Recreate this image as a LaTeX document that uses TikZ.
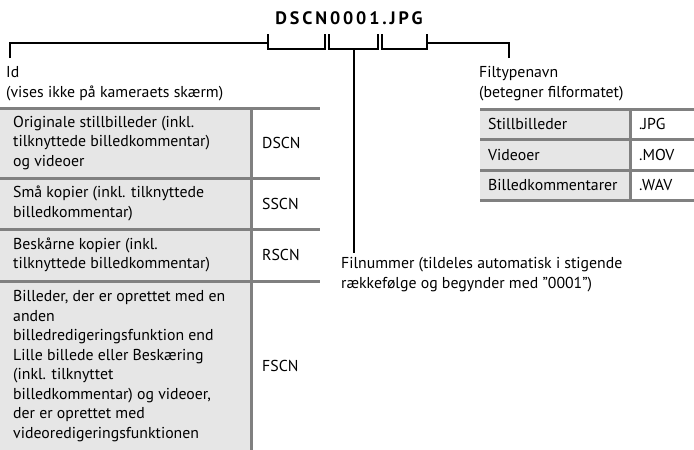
\documentclass[tikz,border=0pt]{standalone}
\usepackage{fontspec}
\setmainfont{PT Sans}
\newfontfamily\titlefont[LetterSpace=16]{PT Sans}
\definecolor{cellgray}{HTML}{E6E6E6}
\definecolor{rulegray}{HTML}{808080}
\begin{document}
\begin{tikzpicture}[x=1pt,y=-1pt,
  blk/.style={line width=2pt,black},
  rule/.style={line width=3pt,draw=rulegray},
  txt/.style={anchor=base west,align=left,inner sep=0pt,font=\fontsize{15.8}{19.5}\selectfont},
  cell/.style={anchor=west,align=left,inner sep=0pt,font=\fontsize{15.8}{19.5}\selectfont},
  code/.style={anchor=west,inner sep=0pt,font=\fontsize{15.8}{19.5}\selectfont}]
\useasboundingbox (0,0) rectangle (694,450);
% title
\node[inner sep=0pt,font=\titlefont\bfseries\fontsize{18}{20}\selectfont] (title) at (349,18) {DSCN0001.JPG};
% bracket coordinates
\coordinate (b1a) at (268,34); \coordinate (b1b) at (325,34);
\coordinate (b2a) at (329,34); \coordinate (b2b) at (378,34);
\coordinate (b3a) at (382,34); \coordinate (b3b) at (427,34);
\draw[blk] (b1a) -- ++(0,15) -| (b1b);
\draw[blk] (b2a) -- ++(0,15) -| (b2b);
\draw[blk] (b3a) -- ++(0,15) -| (b3b);
\coordinate (idtick) at (10,58);
\coordinate (fttick) at (509,58);
\coordinate (stemtop) at (353.5,49);
\coordinate (stemend) at (353.5,253);
\draw[blk] (idtick) |- ([yshift=-9pt]b1a);
\draw[blk] (fttick) |- ([yshift=-9pt]b3b);
\draw[blk] (stemtop) -- (stemend);
% labels
\node[txt] (id) at (6,97) {Id\\(vises ikke på kameraets skærm)};
\node[txt] (ft) at (479,97) {Filtypenavn\\(betegner filformatet)};
\node[txt] (fn) at (341,288) {Filnummer (tildeles automatisk i stigende\\rækkefølge og begynder med \symbol{34}0001\symbol{34})};
% left table
\fill[cellgray] (0,108) rectangle (250,450);
\draw[rule] (0,108) -- (320,108);
\draw[rule] (0,178) -- (320,178);
\draw[rule] (0,229) -- (320,229);
\draw[rule] (0,281) -- (320,281);
\draw[rule] (251,108) -- (251,450);
\node[cell] (r1) at (13,143) {Originale stillbilleder (inkl.\\tilknyttede billedkommentar)\\og videoer};
\node[code] (c1) at (262,143) {DSCN};
\node[cell] (r2) at (13,203.5) {Små kopier (inkl. tilknyttede\\billedkommentar)};
\node[code] (c2) at (262,203.5) {SSCN};
\node[cell] (r3) at (13,255) {Beskårne kopier (inkl.\\tilknyttede billedkommentar)};
\node[code] (c3) at (262,255) {RSCN};
\node[cell] (r4) at (13,366) {Billeder, der er oprettet med en\\anden\\billedredigeringsfunktion end\\Lille billede eller Beskæring\\(inkl. tilknyttet\\billedkommentar) og videoer,\\der er oprettet med\\videoredigeringsfunktionen};
\node[code] (c4) at (262,366) {FSCN};
% right table
\fill[cellgray] (480,109) rectangle (630,200.5);
\draw[rule] (480,109) -- (694,109);
\draw[rule] (480,139.5) -- (694,139.5);
\draw[rule] (480,170) -- (694,170);
\draw[rule] (480,200.5) -- (694,200.5);
\draw[rule] (630,109) -- (630,200.5);
\node[code] (s1) at (488,124.25) {Stillbilleder};
\node[code] (e1) at (639,124.25) {.JPG};
\node[code] (s2) at (488,154.75) {Videoer};
\node[code] (e2) at (639,154.75) {.MOV};
\node[code] (s3) at (488,185.25) {Billedkommentarer};
\node[code] (e3) at (639,185.25) {.WAV};
\end{tikzpicture}
\end{document}
